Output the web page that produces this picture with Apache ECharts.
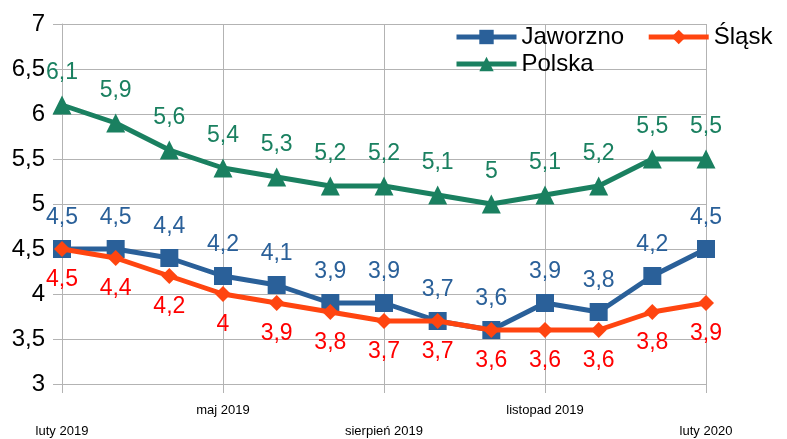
<!DOCTYPE html>
<html><head><meta charset="utf-8">
<script src="https://cdn.jsdelivr.net/npm/echarts@6/dist/echarts.min.js"></script>
<style>html,body{margin:0;padding:0;background:#fff}#c{width:787px;height:439px}</style>
</head><body><div id="c"></div>
<script>
var categories = ['luty 2019','marzec 2019','kwiecień 2019','maj 2019','czerwiec 2019','lipiec 2019','sierpień 2019','wrzesień 2019','październik 2019','listopad 2019','grudzień 2019','styczeń 2020','luty 2020'];
var jaworzno = [4.5,4.5,4.4,4.2,4.1,3.9,3.9,3.7,3.6,3.9,3.8,4.2,4.5];
var slask = [4.5,4.4,4.2,4.0,3.9,3.8,3.7,3.7,3.6,3.6,3.6,3.8,3.9];
var polska = [6.1,5.9,5.6,5.4,5.3,5.2,5.2,5.1,5.0,5.1,5.2,5.5,5.5];
var yTicks = [3,3.5,4,4.5,5,5.5,6,6.5,7];

var FONT = '"Liberation Sans", Arial, sans-serif';
function fmt(v){ return String(v).replace('.', ','); }
function lbl(color, pos){
  return {show:true, position:pos, distance:11, color:color, fontSize:23, fontFamily:FONT,
    formatter:function(p){return fmt(p.value);}};
}
var legendBase = {
  itemWidth:60, itemHeight:18, itemGap:22,
  lineStyle:{width:5},
  textStyle:{fontSize:24, fontFamily:FONT, color:'#000'}
};
var chart = echarts.init(document.getElementById('c'), null, {renderer:'canvas'});
chart.setOption({
  animation:false,
  grid:{left:62, right:81, top:24, bottom:55, containLabel:false, outerBoundsMode:'none'},
  legend:[
    Object.assign({left:449, top:20, data:['Jaworzno','Śląsk']}, legendBase),
    Object.assign({left:449, top:47, data:['Polska']}, legendBase)
  ],
  xAxis:{
    type:'category', data:categories, boundaryGap:false,
    axisLine:{show:true, lineStyle:{color:'#b3b3b3', width:1}},
    axisTick:{show:true, interval:2, length:9, lineStyle:{color:'#b3b3b3'}},
    splitLine:{show:true, interval:2, lineStyle:{color:'#b3b3b3'}},
    axisLabel:{interval:2, margin:16, fontSize:13, fontFamily:FONT, color:'#000', lineHeight:21,
      formatter:function(v, i){ return (i % 6 === 0) ? '\n' + v : v; }}
  },
  yAxis:{
    type:'value', min:3, max:7, interval:0.5,
    axisLine:{show:true, lineStyle:{color:'#b3b3b3'}},
    axisTick:{show:true, length:9, lineStyle:{color:'#b3b3b3'}},
    splitLine:{show:true, lineStyle:{color:'#b3b3b3'}},
    axisLabel:{fontSize:24, fontFamily:FONT, color:'#000', margin:17,
      formatter:function(v){ return fmt(v); }}
  },
  series:[
    {name:'Jaworzno', type:'line', data:jaworzno, symbol:'rect', symbolSize:18,
     lineStyle:{width:5, color:'#2a6099'}, itemStyle:{color:'#2a6099'},
     label:lbl('#2a6099','top'), z:2},
    {name:'Śląsk', type:'line', data:slask, symbol:'diamond', symbolSize:16,
     lineStyle:{width:5, color:'#ff4510'}, itemStyle:{color:'#ff4510'},
     label:lbl('#ff0000','bottom'), z:3},
    {name:'Polska', type:'line', data:polska, symbol:'triangle', symbolSize:19,
     lineStyle:{width:5, color:'#1a8060'}, itemStyle:{color:'#1a8060'},
     label:lbl('#1a8060','top'), z:2}
  ]
});
</script></body></html>
